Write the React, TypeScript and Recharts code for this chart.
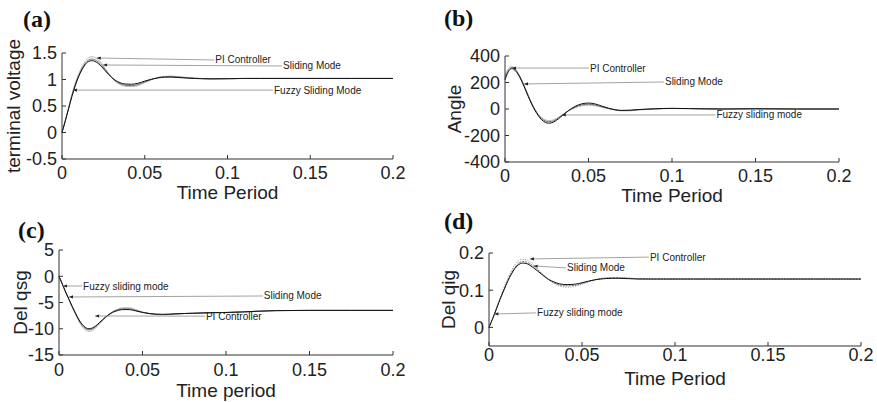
import { LineChart, Line, XAxis, YAxis, ReferenceLine } from 'recharts'

// shared sample times (s)
const timeSec = [
  0, 0.002, 0.004, 0.006, 0.008, 0.01, 0.012, 0.014, 0.016, 0.018, 0.02, 0.022, 0.024, 0.026,
  0.028, 0.03, 0.032, 0.035, 0.038, 0.042, 0.046, 0.05, 0.054, 0.058, 0.062, 0.066, 0.07,
  0.075, 0.08, 0.09, 0.1, 0.11, 0.12, 0.13, 0.15, 0.175, 0.2,
]
const xTicks = [0, 0.05, 0.1, 0.15, 0.2]

// (a) terminal voltage
const voltFuzzy = [
  0, 0.22, 0.45, 0.68, 0.88, 1.05, 1.18, 1.28, 1.34, 1.355, 1.34, 1.3, 1.24, 1.17, 1.1, 1.04,
  0.99, 0.94, 0.915, 0.91, 0.93, 0.97, 1.005, 1.03, 1.043, 1.045, 1.038, 1.028, 1.02, 1.012,
  1.015, 1.02, 1.02, 1.02, 1.02, 1.02, 1.02,
]
const voltSliding = [
  0, 0.22, 0.46, 0.7, 0.9, 1.07, 1.2, 1.3, 1.365, 1.385, 1.37, 1.33, 1.27, 1.19, 1.11, 1.04,
  0.98, 0.925, 0.893, 0.885, 0.905, 0.955, 1.0, 1.035, 1.052, 1.055, 1.047, 1.034, 1.024, 1.013,
  1.015, 1.02, 1.02, 1.02, 1.02, 1.02, 1.02,
]
const voltPI = [
  0, 0.22, 0.47, 0.72, 0.93, 1.1, 1.24, 1.34, 1.41, 1.43, 1.415, 1.37, 1.3, 1.21, 1.12, 1.04,
  0.97, 0.905, 0.872, 0.865, 0.885, 0.94, 0.995, 1.04, 1.06, 1.065, 1.055, 1.04, 1.027, 1.012,
  1.014, 1.02, 1.02, 1.02, 1.02, 1.02, 1.02,
]
const voltTicks = [-0.5, 0, 0.5, 1, 1.5]

// (b) angle
const angleFuzzy = [
  220, 282, 305, 292, 258, 210, 152, 92, 36, -12, -52, -82, -100, -107, -104, -92, -74, -42,
  -12, 20, 39, 45, 38, 22, 6, -6, -11, -9, -4, 2, 5, 3, 1, 0, 2, 0, 0,
]
const angleSliding = [
  235, 290, 312, 300, 266, 218, 160, 100, 44, -4, -44, -72, -90, -96, -94, -84, -68, -40, -14,
  14, 31, 36, 30, 17, 4, -6, -11, -10, -5, 1, 4, 3, 1, 0, 1, 0, 0,
]
const anglePI = [
  255, 305, 322, 306, 268, 218, 158, 98, 42, -4, -42, -68, -82, -87, -85, -76, -62, -38, -15,
  9, 24, 28, 24, 13, 2, -8, -14, -14, -8, 0, 4, 3, 1, 0, 1, 0, 0,
]
const angleTicks = [-400, -200, 0, 200, 400]

// (c) del qsg
const qsgFuzzy = [
  0, -1.5, -3.0, -4.4, -5.8, -7.1, -8.3, -9.2, -9.8, -10.0, -9.85, -9.45, -8.9, -8.3, -7.75,
  -7.3, -6.9, -6.55, -6.35, -6.35, -6.6, -6.9, -7.1, -7.22, -7.25, -7.22, -7.15, -7.1, -7.05,
  -6.95, -6.9, -6.8, -6.65, -6.55, -6.5, -6.5, -6.5,
]
const qsgSliding = [
  0, -1.5, -3.0, -4.45, -5.9, -7.2, -8.45, -9.4, -10.0, -10.2, -10.05, -9.6, -9.0, -8.35, -7.75,
  -7.25, -6.8, -6.4, -6.2, -6.2, -6.5, -6.85, -7.1, -7.25, -7.3, -7.25, -7.17, -7.1, -7.05,
  -6.95, -6.9, -6.8, -6.65, -6.55, -6.5, -6.5, -6.5,
]
const qsgPI = [
  0, -1.55, -3.1, -4.55, -6.0, -7.35, -8.65, -9.65, -10.3, -10.5, -10.35, -9.85, -9.2, -8.5,
  -7.85, -7.3, -6.8, -6.3, -6.0, -6.0, -6.35, -6.8, -7.1, -7.3, -7.35, -7.3, -7.2, -7.1, -7.05,
  -6.95, -6.9, -6.8, -6.65, -6.55, -6.5, -6.5, -6.5,
]
const qsgTicks = [-15, -10, -5, 0, 5]

// (d) del qig
const qigFuzzy = [
  0, 0.024, 0.05, 0.076, 0.1, 0.123, 0.143, 0.159, 0.169, 0.173, 0.172, 0.167, 0.16, 0.152,
  0.144, 0.136, 0.129, 0.122, 0.117, 0.115, 0.116, 0.12, 0.125, 0.129, 0.131, 0.132, 0.132,
  0.131, 0.13, 0.13, 0.13, 0.13, 0.13, 0.13, 0.13, 0.13, 0.13,
]
const qigSliding = [
  0, 0.024, 0.05, 0.077, 0.102, 0.126, 0.146, 0.162, 0.173, 0.177, 0.176, 0.171, 0.164, 0.155,
  0.146, 0.137, 0.129, 0.12, 0.114, 0.112, 0.113, 0.118, 0.124, 0.129, 0.132, 0.133, 0.133,
  0.132, 0.131, 0.13, 0.13, 0.13, 0.13, 0.13, 0.13, 0.13, 0.13,
]
const qigPI = [
  0, 0.025, 0.052, 0.08, 0.106, 0.13, 0.152, 0.169, 0.179, 0.183, 0.182, 0.177, 0.169, 0.159,
  0.148, 0.138, 0.129, 0.118, 0.111, 0.108, 0.11, 0.116, 0.123, 0.129, 0.133, 0.134, 0.134,
  0.133, 0.131, 0.13, 0.13, 0.13, 0.13, 0.13, 0.13, 0.13, 0.13,
]
const qigTicks = [0, 0.1, 0.2]

const FONT = '"Liberation Sans", Arial, Helvetica, sans-serif'
const INK = '#222'

type Note = { tip: [number, number]; end: [number, number]; text: string }
type Box = { left: number; top: number; width: number; height: number }

const makeRows = (fuzzy: number[], sliding: number[], pi: number[]) =>
  timeSec.map((t, i) => ({ t, fuzzy: fuzzy[i], sliding: sliding[i], pi: pi[i] }))

const arrowShape = (text: string) => (props: any) => {
  const { x1, y1, x2, y2 } = props
  const ang = Math.atan2(y1 - y2, x1 - x2)
  const bx = x1 - 4 * Math.cos(ang)
  const by = y1 - 4 * Math.sin(ang)
  const px = -Math.sin(ang) * 1.6
  const py = Math.cos(ang) * 1.6
  return (
    <g>
      <line x1={x1} y1={y1} x2={x2} y2={y2} stroke="#8a8a8a" strokeWidth={0.8} />
      <polygon points={`${x1},${y1} ${bx + px},${by + py} ${bx - px},${by - py}`} fill={INK} />
      <text x={x2 + 1} y={y2} dominantBaseline="central" fontSize={10} fontFamily={FONT} fill={INK}>
        {text}
      </text>
    </g>
  )
}

interface PanelProps {
  box: Box
  rows: { t: number; fuzzy: number; sliding: number; pi: number }[]
  yDomain: [number, number]
  yTicks: number[]
  xTickGap: number
  notes: Note[]
  piColor?: string
  piDash?: string
  slidingDash?: string
}

function Panel({ box, rows, yDomain, yTicks, xTickGap, notes, piColor = '#b8b8b8', piDash, slidingDash }: PanelProps) {
  const padL = 70
  const padT = 10
  const padR = 30
  const padB = 50
  const axisStroke = '#333'
  return (
    <div style={{ position: 'absolute', left: box.left - padL, top: box.top - padT }}>
      <LineChart
        width={box.width + padL + padR}
        height={box.height + padT + padB}
        data={rows}
        margin={{ top: padT, right: padR, bottom: 0, left: 0 }}
        style={{ overflow: 'visible' }}
      >
        <XAxis
          dataKey="t"
          type="number"
          domain={[0, 0.2]}
          ticks={xTicks}
          interval={0}
          height={padB}
          tickSize={-4}
          tickMargin={xTickGap + 4}
          stroke={axisStroke}
          tick={{ fontSize: 18, fill: INK, fontFamily: FONT }}
        />
        <XAxis
          xAxisId="top"
          orientation="top"
          type="number"
          domain={[0, 0.2]}
          ticks={xTicks}
          interval={0}
          height={0}
          tickSize={-4}
          tick={false}
          stroke={axisStroke}
        />
        <YAxis
          type="number"
          domain={yDomain}
          ticks={yTicks}
          interval={0}
          width={padL}
          tickSize={-4}
          tickMargin={9}
          stroke={axisStroke}
          tick={{ fontSize: 18, fill: INK, fontFamily: FONT }}
        />
        <YAxis
          yAxisId="right"
          orientation="right"
          type="number"
          domain={yDomain}
          ticks={yTicks}
          interval={0}
          width={0}
          tickSize={-4}
          tick={false}
          stroke={axisStroke}
        />
        <Line dataKey="pi" type="monotone" stroke={piColor} strokeWidth={1} strokeDasharray={piDash} dot={false} isAnimationActive={false} />
        <Line dataKey="sliding" type="monotone" stroke="#6e6e6e" strokeWidth={1} strokeDasharray={slidingDash} dot={false} isAnimationActive={false} />
        <Line dataKey="fuzzy" type="monotone" stroke="#111" strokeWidth={1} dot={false} isAnimationActive={false} />
        {notes.map((n) => (
          <ReferenceLine
            key={n.text}
            segment={[{ x: n.tip[0], y: n.tip[1] }, { x: n.end[0], y: n.end[1] }]}
            ifOverflow="visible"
            shape={arrowShape(n.text)}
          />
        ))}
      </LineChart>
    </div>
  )
}

const boxA: Box = { left: 62, top: 53, width: 331, height: 106 }
const boxB: Box = { left: 505, top: 56, width: 334, height: 106 }
const boxC: Box = { left: 59, top: 250, width: 334, height: 105 }
const boxD: Box = { left: 489, top: 253, width: 372, height: 93 }

const notesA: Note[] = [
  { tip: [0.021, 1.406], end: [0.092, 1.368], text: 'PI Controller' },
  { tip: [0.0248, 1.274], end: [0.133, 1.255], text: 'Sliding Mode' },
  { tip: [0.0066, 0.8], end: [0.1275, 0.8], text: 'Fuzzy Sliding Mode' },
]
const notesB: Note[] = [
  { tip: [0.0042, 309], end: [0.0503, 309], text: 'PI Controller' },
  { tip: [0.0114, 189], end: [0.0952, 204], text: 'Sliding Mode' },
  { tip: [0.034, -45], end: [0.126, -45], text: 'Fuzzy sliding mode' },
]
const notesC: Note[] = [
  { tip: [0.0024, -1.86], end: [0.0138, -1.86], text: 'Fuzzy sliding mode' },
  { tip: [0.006, -3.95], end: [0.122, -3.76], text: 'Sliding Mode' },
  { tip: [0.0216, -7.57], end: [0.0874, -7.6], text: 'PI Controller' },
]
const notesD: Note[] = [
  { tip: [0.022, 0.184], end: [0.086, 0.189], text: 'PI Controller' },
  { tip: [0.024, 0.165], end: [0.0414, 0.16], text: 'Sliding Mode' },
  { tip: [0.0029, 0.036], end: [0.0253, 0.039], text: 'Fuzzy sliding mode' },
]

function AxisTitles({ box, yLabel, xLabel, yOff, xOff }: { box: Box; yLabel: string; xLabel: string; yOff: number; xOff: number }) {
  const cy = box.top + box.height / 2
  const cx = box.left + box.width / 2
  return (
    <>
      <text
        x={box.left - yOff}
        y={cy}
        transform={`rotate(-90 ${box.left - yOff} ${cy})`}
        textAnchor="middle"
        dominantBaseline="central"
        fontSize={19}
        fontFamily={FONT}
        fill={INK}
      >
        {yLabel}
      </text>
      <text x={cx} y={box.top + box.height + xOff} textAnchor="middle" dominantBaseline="central" fontSize={19} fontFamily={FONT} fill={INK}>
        {xLabel}
      </text>
    </>
  )
}

export default function App() {
  const tag = { fontSize: 24, fontWeight: 700, fontFamily: '"Liberation Serif", "Times New Roman", serif', fill: '#111' }
  return (
    <div style={{ position: 'absolute', left: 0, top: 0, width: 877, height: 402, background: '#fff', overflow: 'hidden' }}>
      <Panel box={boxA} rows={makeRows(voltFuzzy, voltSliding, voltPI)} yDomain={[-0.5, 1.5]} yTicks={voltTicks} xTickGap={7} notes={notesA} />
      <Panel box={boxB} rows={makeRows(angleFuzzy, angleSliding, anglePI)} yDomain={[-400, 400]} yTicks={angleTicks} xTickGap={7} notes={notesB} />
      <Panel box={boxC} rows={makeRows(qsgFuzzy, qsgSliding, qsgPI)} yDomain={[-15, 5]} yTicks={qsgTicks} xTickGap={8} notes={notesC} piColor="#b4b8c8" />
      <Panel box={boxD} rows={makeRows(qigFuzzy, qigSliding, qigPI)} yDomain={[-0.05, 0.2]} yTicks={qigTicks} xTickGap={2} notes={notesD} piDash="1 1.5" slidingDash="2 1" piColor="#888" />
      <svg width={877} height={402} style={{ position: 'absolute', left: 0, top: 0, pointerEvents: 'none' }}>
        <text x={23} y={27} {...tag}>(a)</text>
        <text x={444} y={26} {...tag}>(b)</text>
        <text x={18} y={238} {...tag}>(c)</text>
        <text x={444} y={229} {...tag}>(d)</text>
        <AxisTitles box={boxA} yLabel="terminal voltage" xLabel="Time Period" yOff={49} xOff={33} />
        <AxisTitles box={boxB} yLabel="Angle" xLabel="Time Period" yOff={51} xOff={33} />
        <AxisTitles box={boxC} yLabel="Del qsg" xLabel="Time period" yOff={39} xOff={35} />
        <AxisTitles box={boxD} yLabel="Del qig" xLabel="Time Period" yOff={41} xOff={32} />
      </svg>
    </div>
  )
}
